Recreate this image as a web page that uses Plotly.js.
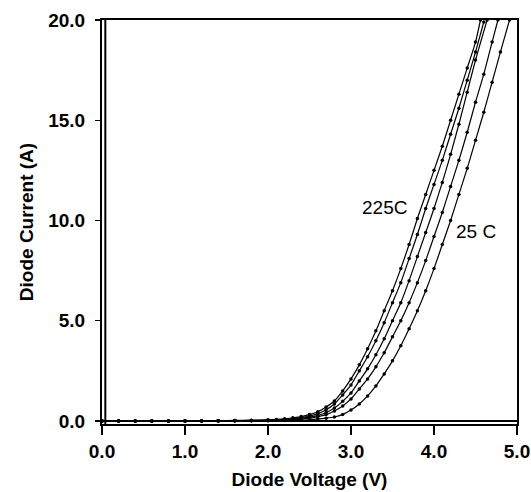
<!DOCTYPE html>
<html>
<head>
<meta charset="utf-8">
<script src="https://cdn.plot.ly/plotly-3.0.1.min.js"></script>
<style>html,body{margin:0;padding:0;background:#fff;}#chart{width:531px;height:492px;}</style>
</head>
<body>
<div id="chart"></div>
<script>
// Diode forward I-V curves at several temperatures
const vA = [0,0.2,0.4,0.6,0.8,1.0,1.2,1.4,1.6,1.8,2.0,2.1,2.2,2.3,2.4,2.5,2.6,2.7,2.8,2.9,3.0,3.1,3.2,3.3,3.4,3.5,3.6,3.7,3.8,3.9,4.0,4.1,4.2,4.3,4.4,4.5,4.56];
const iA = [0,0,0,0,0,0.01,0.01,0.02,0.03,0.04,0.06,0.08,0.11,0.16,0.22,0.32,0.46,0.7,1.0,1.5,2.1,2.8,3.6,4.5,5.5,6.5,7.6,8.8,10.1,11.3,12.5,13.7,15.0,16.3,17.6,18.9,20.0];

const vB = [0,0.2,0.4,0.6,0.8,1.0,1.2,1.4,1.6,1.8,2.0,2.1,2.2,2.3,2.4,2.5,2.6,2.7,2.8,2.9,3.0,3.1,3.2,3.3,3.4,3.5,3.6,3.7,3.8,3.9,4.0,4.1,4.2,4.3,4.4,4.5,4.6];
const iB = [0,0,0,0,0,0,0.01,0.01,0.02,0.03,0.04,0.06,0.08,0.12,0.17,0.25,0.37,0.56,0.85,1.3,1.8,2.5,3.2,4.0,4.9,5.9,6.9,8.1,9.3,10.6,11.8,13.0,14.3,15.6,17.0,18.4,19.9];

const vC = [0,0.2,0.4,0.6,0.8,1.0,1.2,1.4,1.6,1.8,2.0,2.1,2.2,2.3,2.4,2.5,2.6,2.7,2.8,2.9,3.0,3.1,3.2,3.3,3.4,3.5,3.6,3.7,3.8,3.9,4.0,4.1,4.2,4.3,4.4,4.5,4.64];
const iC = [0,0,0,0,0,0,0,0.01,0.01,0.02,0.03,0.04,0.06,0.09,0.13,0.19,0.28,0.42,0.65,0.98,1.4,2.0,2.6,3.3,4.1,5.0,5.9,7.0,8.2,9.4,10.6,11.9,13.3,14.8,16.4,18.0,20.0];

const vD = [0,0.2,0.4,0.6,0.8,1.0,1.2,1.4,1.6,1.8,2.0,2.2,2.3,2.4,2.5,2.6,2.7,2.8,2.9,3.0,3.1,3.2,3.3,3.4,3.5,3.6,3.7,3.8,3.9,4.0,4.1,4.2,4.3,4.4,4.5,4.6,4.7,4.77];
const iD = [0,0,0,0,0,0,0,0,0.01,0.01,0.02,0.04,0.06,0.09,0.14,0.21,0.32,0.5,0.75,1.1,1.6,2.1,2.7,3.4,4.2,5.0,5.9,6.9,8.0,9.2,10.4,11.7,13.0,14.4,15.9,17.3,18.9,20.0];

const vE = [0,0.2,0.4,0.6,0.8,1.0,1.2,1.4,1.6,1.8,2.0,2.2,2.4,2.5,2.6,2.7,2.8,2.9,3.0,3.1,3.2,3.3,3.4,3.5,3.6,3.7,3.8,3.9,4.0,4.1,4.2,4.3,4.4,4.5,4.6,4.7,4.8,4.91];
const iE = [0,0,0,0,0,0,0,0,0,0.01,0.01,0.02,0.04,0.06,0.1,0.14,0.2,0.33,0.55,0.85,1.25,1.75,2.35,3.0,3.75,4.6,5.5,6.5,7.6,8.8,10.0,11.3,12.6,14.0,15.4,16.9,18.4,20.0];

const curves = [[vA,iA],[vB,iB],[vC,iC],[vD,iD],[vE,iE]];

const xTicks = [0,1,2,3,4,5];
const yTicks = [0,5,10,15,20];
const labels = [
  {text:'225C', v:3.405, i:10.65},
  {text:'25 C', v:4.51, i:9.43}
];

const FONT = 'Liberation Sans, Arial, sans-serif';
const AXFONT = {family:FONT, size:19, color:'#000', weight:'bold'};

const traces = curves.map(c => ({
  x: c[0], y: c[1],
  type: 'scatter',
  mode: 'lines+markers',
  line: {color:'#000', width:1.2, shape:'spline', smoothing:0.6},
  marker: {color:'#000', size:3.5},
  cliponaxis: true,
  showlegend: false,
  hoverinfo: 'skip'
}));

const layout = {
  width: 531, height: 492,
  margin: {l:102, r:14, t:20, b:68},
  paper_bgcolor:'#fff', plot_bgcolor:'#fff',
  showlegend:false,
  font: {family: FONT, color:'#000', size:18},
  xaxis: {
    range:[0,5], tickvals:xTicks, tickformat:'.1f',
    ticks:'outside', ticklen:9, tickwidth:1.5, tickcolor:'#000',
    showline:true, linewidth:2, linecolor:'#000', mirror:true,
    showgrid:false, zeroline:false,
    tickfont:AXFONT,
    title:{text:'Diode Voltage (V)', font:AXFONT, standoff:12}
  },
  yaxis: {
    range:[-0.15,20], tickvals:yTicks, tickformat:'.1f',
    ticks:'outside', ticklen:5, tickwidth:1.5, tickcolor:'#000',
    showline:true, linewidth:2, linecolor:'#000', mirror:true,
    showgrid:false, zeroline:false,
    ticklabelstandoff:6,
    tickfont:AXFONT,
    title:{text:'Diode Current (A)', font:AXFONT, standoff:10}
  },
  shapes: [
    {type:'line', xref:'paper', yref:'paper', x0:0.008, x1:0.008, y0:0, y1:1, line:{color:'#000', width:2}},
    {type:'line', xref:'paper', yref:'y', x0:0, x1:1, y0:0, y1:0, line:{color:'#000', width:2}}
  ],
  annotations: labels.map(a => ({
    x:a.v, y:a.i, xref:'x', yref:'y', text:a.text, showarrow:false,
    font:{family:FONT, size:19, color:'#000'}
  }))
};

Plotly.newPlot('chart', traces, layout, {displayModeBar:false, staticPlot:true});
</script>
</body>
</html>
